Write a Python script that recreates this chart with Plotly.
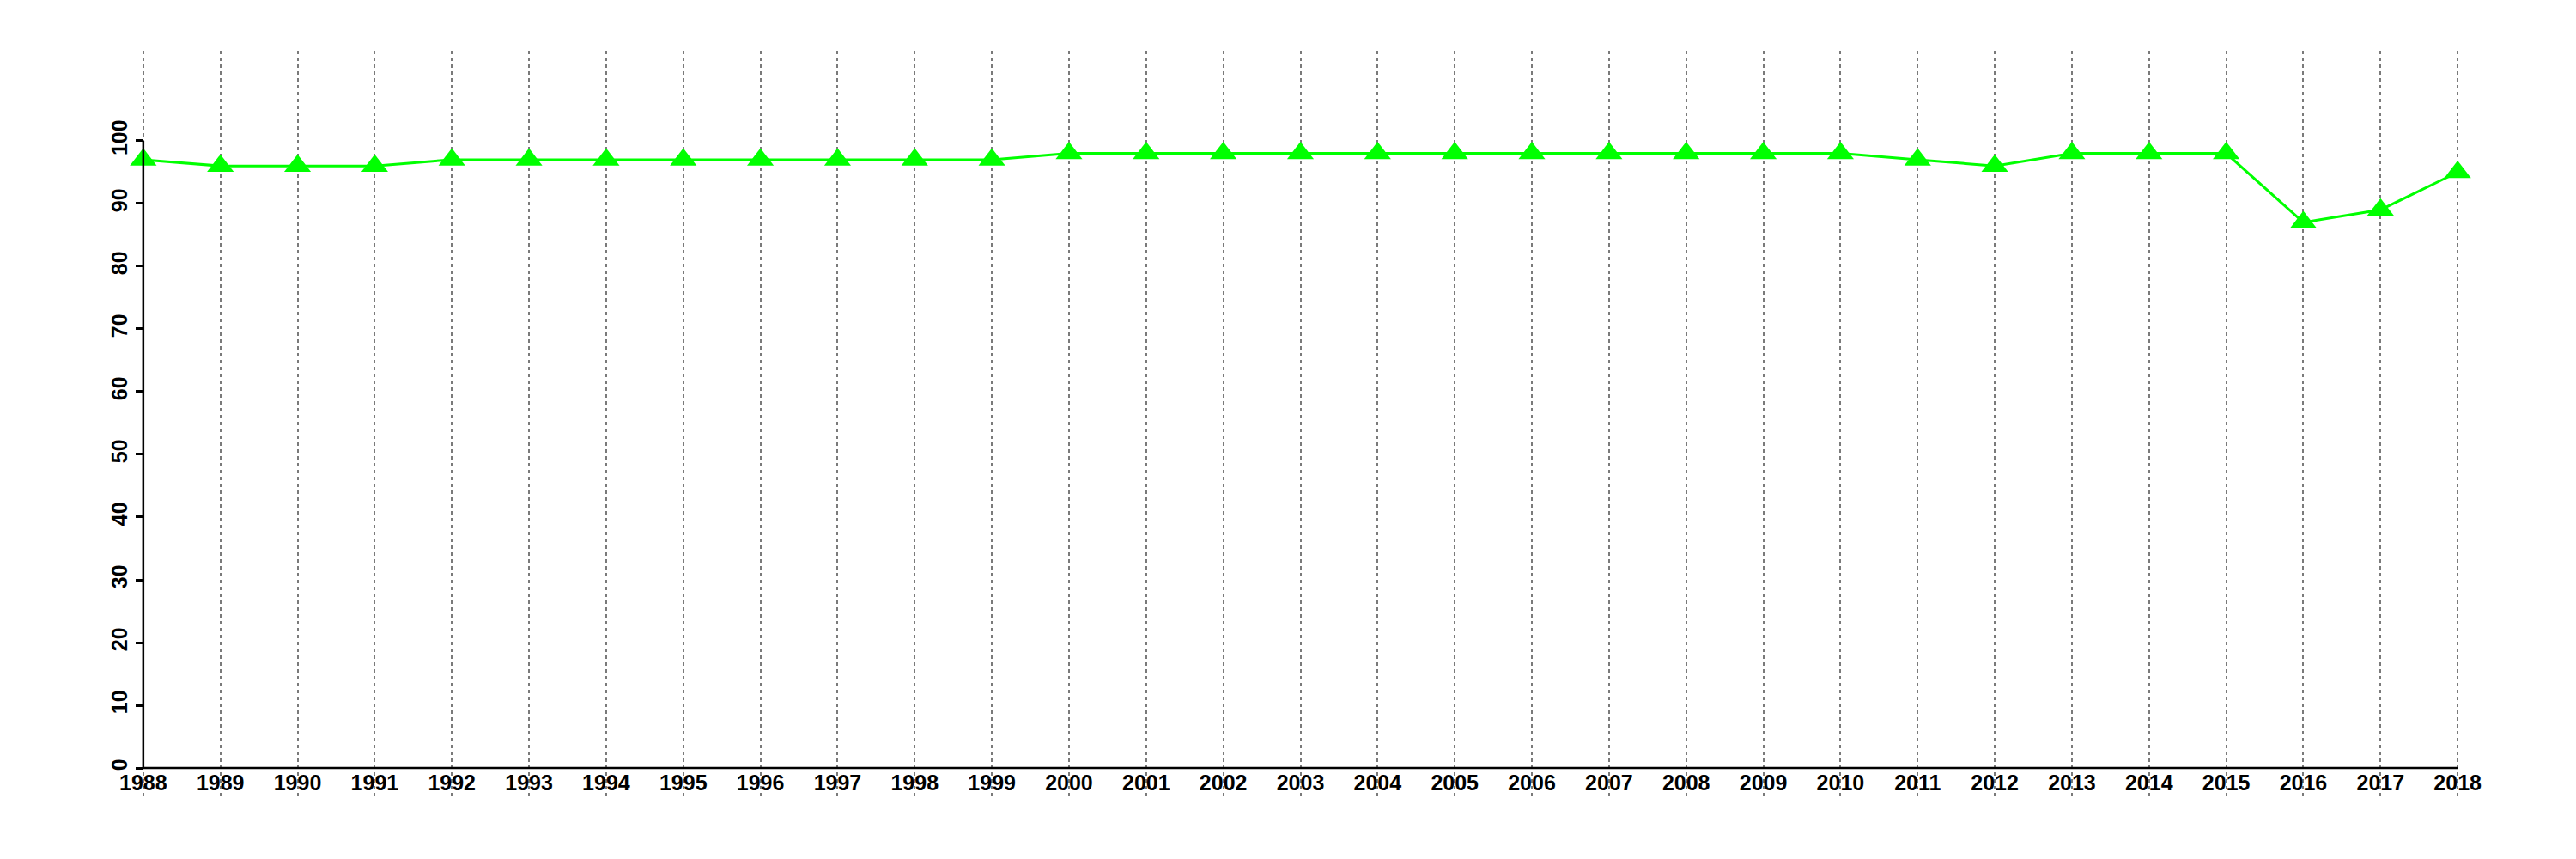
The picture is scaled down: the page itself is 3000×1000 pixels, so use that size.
import plotly.graph_objects as go

years = list(range(1988, 2019))
values = [97, 96, 96, 96, 97, 97, 97, 97, 97, 97, 97, 97,
          98, 98, 98, 98, 98, 98, 98, 98, 98, 98, 98,
          97, 96, 98, 98, 98, 87, 89, 95]
y_ticks = [0, 10, 20, 30, 40, 50, 60, 70, 80, 90, 100]

x_range = [1987, 2019]
y_range = [-4.52, 114.38]

font = dict(family="Liberation Sans", size=25, color="black", weight="bold")

fig = go.Figure()
fig.add_trace(go.Scatter(
    x=years, y=values, mode="lines+markers",
    line=dict(color="#00FF00", width=3),
    marker=dict(symbol="triangle-up", size=27, color="#00FF00"),
    showlegend=False,
))

# axis lines (R-style, spanning only the data extent)
fig.add_shape(type="line", xref="x", yref="y",
              x0=years[0], x1=years[0], y0=y_ticks[0], y1=y_ticks[-1],
              line=dict(color="black", width=2.5))
fig.add_shape(type="line", xref="x", yref="y",
              x0=years[0], x1=years[-1], y0=y_ticks[0], y1=y_ticks[0],
              line=dict(color="black", width=2.5))

ypos = (years[0] - x_range[0]) / (x_range[1] - x_range[0])
xpos = (0 - y_range[0]) / (y_range[1] - y_range[0])

fig.update_layout(
    width=3000, height=1000,
    margin=dict(l=69, r=56, t=51, b=81, autoexpand=False),
    plot_bgcolor="white", paper_bgcolor="white",
    font=font,
    xaxis=dict(
        range=x_range, tickvals=years, ticktext=[str(y) for y in years],
        showgrid=True, gridcolor="#7a7a7a", gridwidth=2, griddash="4px,4px",
        zeroline=False, showline=False, ticks="",
        anchor="free", position=xpos, tickfont=font,
    ),
    yaxis=dict(
        range=y_range, tickvals=y_ticks, ticktext=[str(v) for v in y_ticks],
        showgrid=False, zeroline=False, showline=False,
        ticks="outside", ticklen=9, tickwidth=2.5, tickcolor="black",
        tickangle=-90, anchor="free", position=ypos, tickfont=font,
    ),
)

fig.write_html("out.html")
